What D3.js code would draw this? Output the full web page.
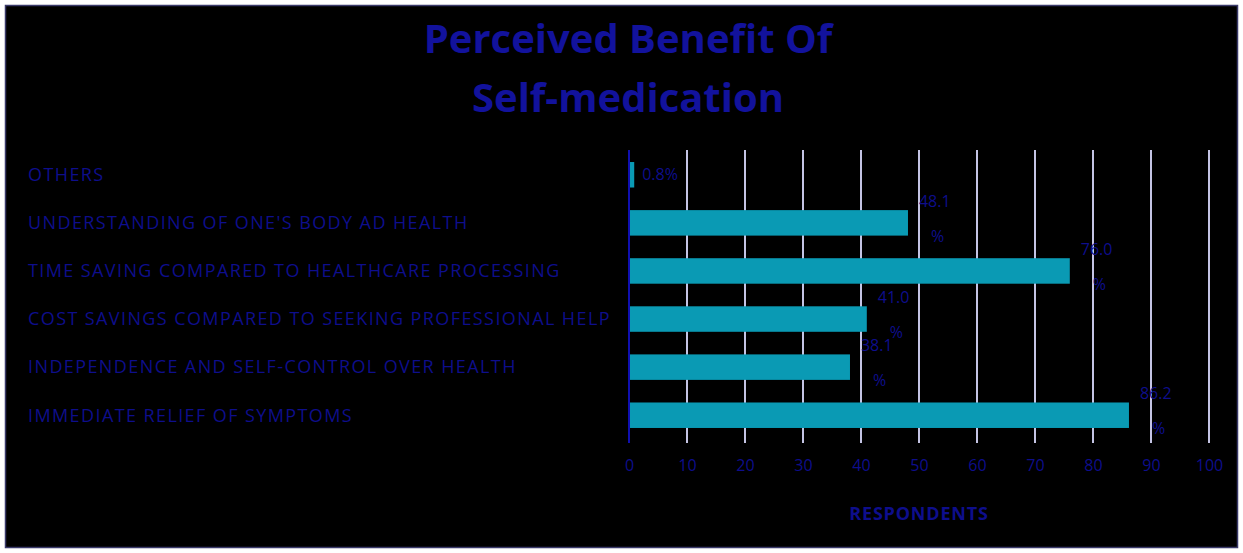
<!DOCTYPE html>
<html><head><meta charset="utf-8">
<script src="https://cdn.jsdelivr.net/npm/d3@7"></script>
<style>html,body{margin:0;padding:0;background:#fff;}svg{display:block;}</style>
</head><body>
<svg id="c" width="1243" height="553"></svg>
<script>
const categories = ["OTHERS","UNDERSTANDING OF ONE'S BODY AD HEALTH","TIME SAVING COMPARED TO HEALTHCARE PROCESSING","COST SAVINGS COMPARED TO SEEKING PROFESSIONAL HELP","INDEPENDENCE AND SELF-CONTROL OVER HEALTH","IMMEDIATE RELIEF OF SYMPTOMS"];
const values = [0.9, 48.1, 76.0, 41.0, 38.1, 86.2];
const valueLabels = ["0.8%","48.1 %","76.0 %","41.0 %","38.1 %","86.2 %"];
const xTicks = [0,10,20,30,40,50,60,70,80,90,100];
const titleLines = ["Perceived Benefit Of","Self-medication"];
const xTitle = "RESPONDENTS";

const svg = d3.select("#c");
const W = 1243, H = 553;
const dark = "#0e0e8c";
svg.append("rect").attr("x",5.5).attr("y",5.5).attr("width",W-11).attr("height",H-11)
  .attr("fill","#000").attr("stroke","#3a3a6a").attr("stroke-width",1.5);

const m = {left:629, right:1209, top:150, bottom:440};
const x = d3.scaleLinear().domain([0,100]).range([m.left,m.right]);
const y = d3.scaleBand().domain(categories).range([m.top,m.bottom]).paddingInner(0.47).paddingOuter(0.25);

// gridlines
svg.append("g").selectAll("line").data(xTicks.slice(1)).join("line")
  .attr("x1",d=>x(d)).attr("x2",d=>x(d)).attr("y1",m.top).attr("y2",m.bottom+3)
  .attr("stroke","#c4c4e4").attr("stroke-width",2);

// bars
svg.append("g").selectAll("rect").data(categories).join("rect")
  .attr("x",x(0)).attr("y",d=>y(d)).attr("height",y.bandwidth())
  .attr("width",(d,i)=>x(values[i])-x(0)).attr("fill","#0a9ab4");

// axis line
svg.append("line").attr("x1",x(0)).attr("x2",x(0)).attr("y1",m.top).attr("y2",m.bottom+3)
  .attr("stroke","#1010b0").attr("stroke-width",2);

// x axis
const xa = svg.append("g").attr("transform",`translate(0,${m.bottom})`)
  .call(d3.axisBottom(x).tickValues(xTicks).tickSize(0).tickPadding(20));
xa.select(".domain").remove();
xa.selectAll("text").attr("fill",dark).attr("font-family","Open Sans, sans-serif").attr("font-size",16);

svg.append("text").attr("x",(m.left+m.right)/2).attr("y",520).attr("text-anchor","middle")
  .attr("fill",dark).attr("font-family","Open Sans, sans-serif").attr("font-weight","bold").attr("font-size",18)
  .attr("letter-spacing",0.8)
  .text(xTitle);

// category labels
svg.append("g").selectAll("text").data(categories).join("text")
  .attr("x",28).attr("y",d=>y(d)+y.bandwidth()/2).attr("dy","0.35em")
  .attr("fill",dark).attr("font-family","Open Sans, sans-serif").attr("font-size",18)
  .attr("letter-spacing",1.4)
  .text(d=>d);

// value labels
const vl = svg.append("g").selectAll("text").data(categories).join("text")
  .attr("fill",dark).attr("font-family","Open Sans, sans-serif").attr("font-size",16);
vl.each(function(d,i){
  const t = d3.select(this);
  const parts = valueLabels[i].split(" ");
  if (parts.length===1){
    t.attr("x",x(values[i])+8).attr("y",y(d)+y.bandwidth()/2).attr("dy","0.35em").text(parts[0]);
  } else {
    const bx = x(values[i]);
    t.append("tspan").attr("x",bx+11).attr("y",y(d)-3).text(parts[0]);
    t.append("tspan").attr("x",bx+23).attr("y",y(d)+y.bandwidth()+6).text(parts[1]);
  }
});

// title
svg.append("g").selectAll("text").data(titleLines).join("text")
  .attr("x",628).attr("y",(d,i)=>53+i*59).attr("text-anchor","middle")
  .attr("fill","#12129c").attr("font-family","Open Sans, sans-serif").attr("font-weight","bold").attr("font-size",40)
  .text(d=>d);
</script>
</body></html>
